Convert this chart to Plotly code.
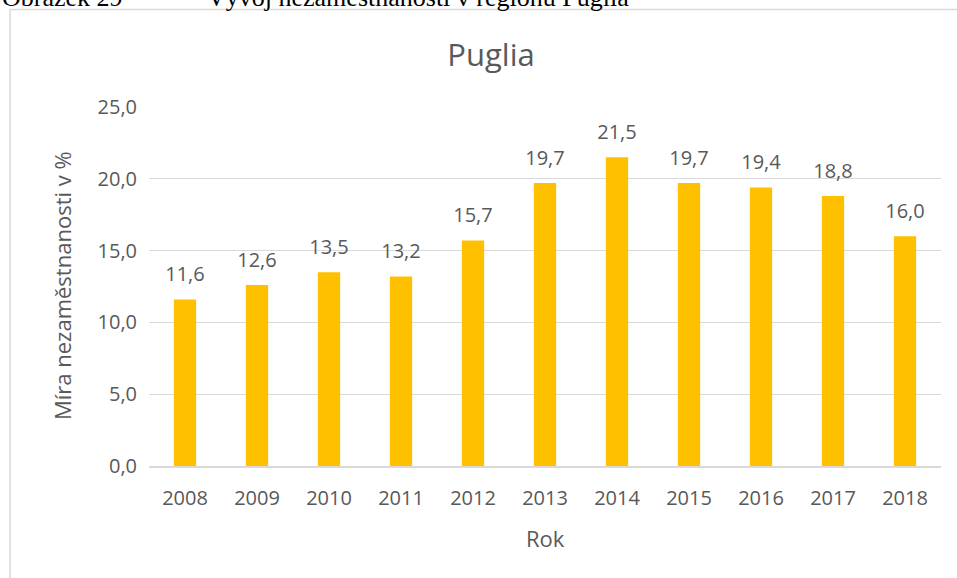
import plotly.graph_objects as go

# Data
roky = ['2008', '2009', '2010', '2011', '2012', '2013', '2014', '2015', '2016', '2017', '2018']
nezamestnanost = [11.6, 12.6, 13.5, 13.2, 15.7, 19.7, 21.5, 19.7, 19.4, 18.8, 16.0]
y_ticks = [0, 5, 10, 15, 20, 25]

W, H = 957, 578
L, R, T, B = 149, 16, 107, 112
pw, ph = W - L - R, H - T - B

def px_x(x):  # pixel -> paper x
    return (x - L) / pw

def px_y(y):  # pixel -> paper y
    return 1 - (y - T) / ph

sedy = '#595959'
fs = 20

fig = go.Figure()
fig.add_trace(go.Bar(
    x=roky, y=nezamestnanost,
    marker=dict(color='#FFC000', line=dict(width=0)),
    hovertemplate='%{x}: %{y:.1f} %<extra></extra>'
))
# popisky hodnot nad sloupci
fig.add_trace(go.Scatter(
    x=roky, y=nezamestnanost, mode='markers+text',
    marker=dict(size=20, opacity=0), hoverinfo='skip',
    texttemplate='%{y:.1f}', textposition='top center', cliponaxis=False,
    textfont=dict(family='Open Sans', size=fs, color=sedy),
))

fig.update_layout(
    width=W, height=H,
    separators=', ',
    plot_bgcolor='white', paper_bgcolor='white',
    margin=dict(l=L, r=R, t=T, b=B),
    bargap=0.69,
    showlegend=False,
    font=dict(family='Open Sans', color=sedy),
    title=dict(text='Puglia', x=491 / W, xanchor='center',
               y=1 - 55 / H, yanchor='middle',
               font=dict(family='Open Sans', size=31, color=sedy)),
)

fig.update_xaxes(
    range=[-0.5, len(roky) - 0.5],
    showline=True, linecolor='#D9D9D9', linewidth=1.5,
    ticks='', tickfont=dict(size=fs, color=sedy), ticklabelstandoff=13,
)
fig.update_yaxes(
    range=[0, 25], tickvals=y_ticks, tickformat='.1f',
    showgrid=True, gridcolor='#D9D9D9', gridwidth=1.3,
    zeroline=False, showline=False, ticks='',
    tickfont=dict(size=fs, color=sedy), ticklabelstandoff=11,
)

# nazvy os
fig.add_annotation(text='Míra nezaměstnanosti v %', xref='paper', yref='paper',
                   x=px_x(62), y=px_y(286), textangle=-90, showarrow=False,
                   xanchor='center', yanchor='middle',
                   font=dict(family='Open Sans', size=22, color=sedy))
fig.add_annotation(text='Rok', xref='paper', yref='paper',
                   x=px_x(545), y=px_y(538), showarrow=False,
                   xanchor='center', yanchor='middle',
                   font=dict(family='Open Sans', size=22, color=sedy))

# ramecek grafu
fig.add_shape(type='rect', xref='paper', yref='paper',
              x0=px_x(10), x1=px_x(975), y0=px_y(600), y1=px_y(9.5),
              line=dict(color='#D9D9D9', width=1.5), fillcolor='rgba(0,0,0,0)', layer='below')

# popisek obrazku (oriznuty nahore)
fig.add_annotation(text='Obrázek 29', xref='paper', yref='paper',
                   x=px_x(0), y=px_y(-2), xanchor='left', yanchor='middle', showarrow=False,
                   font=dict(family='Liberation Serif', size=26, color='black'))
fig.add_annotation(text='Vývoj nezaměstnanosti v regionu Puglia', xref='paper', yref='paper',
                   x=px_x(205), y=px_y(-2), xanchor='left', yanchor='middle', showarrow=False,
                   font=dict(family='Liberation Serif', size=26, color='black'))

fig.write_html('out.html', config={'displayModeBar': False},
               post_script="document.body.style.margin='0';")
